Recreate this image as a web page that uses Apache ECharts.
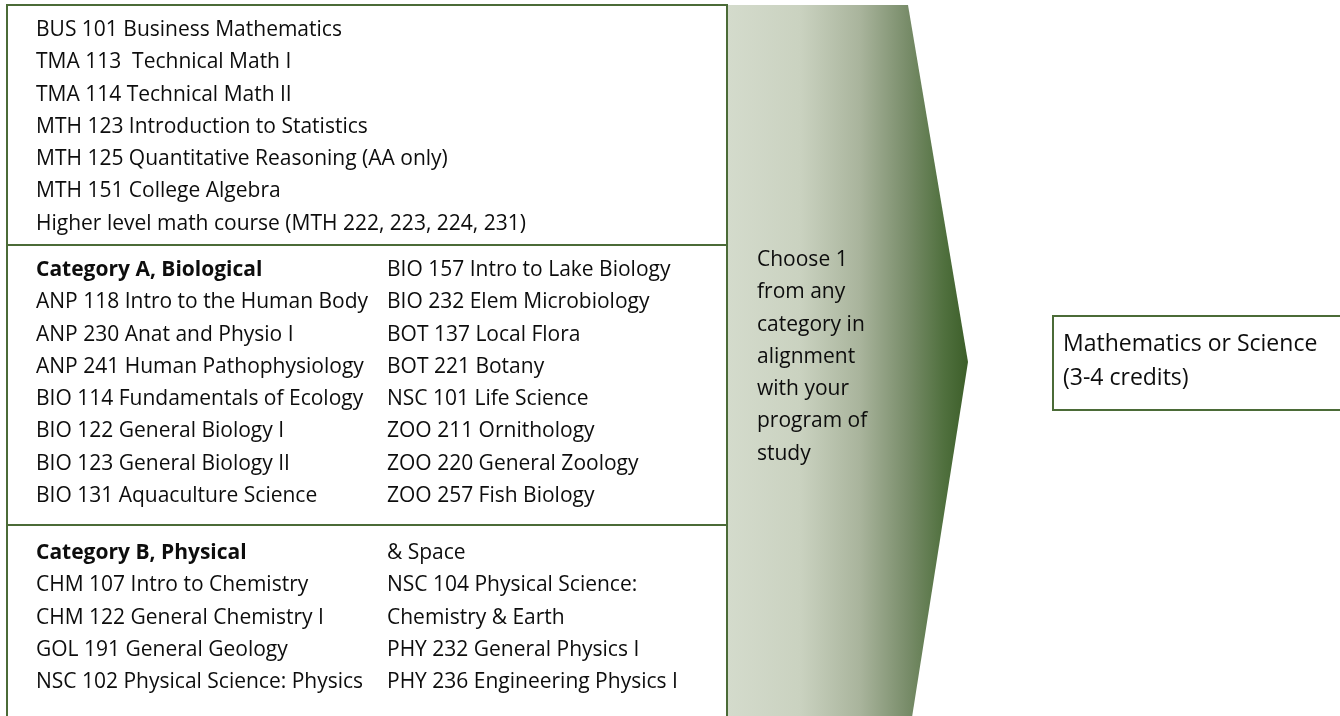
<!DOCTYPE html>
<html><head><meta charset="utf-8">
<script src="https://cdn.jsdelivr.net/npm/echarts@6/dist/echarts.min.js"></script>
<style>html,body{margin:0;padding:0;background:#fff}#c{width:1340px;height:716px}</style>
</head><body><div id="c"></div>
<script>
var mathCourses = ['BUS 101 Business Mathematics','TMA 113  Technical Math I','TMA 114 Technical Math II','MTH 123 Introduction to Statistics','MTH 125 Quantitative Reasoning (AA only)','MTH 151 College Algebra','Higher level math course (MTH 222, 223, 224, 231)'];
var bioHeader = 'Category A, Biological';
var bioCol1 = ['ANP 118 Intro to the Human Body','ANP 230 Anat and Physio I','ANP 241 Human Pathophysiology','BIO 114 Fundamentals of Ecology','BIO 122 General Biology I','BIO 123 General Biology II','BIO 131 Aquaculture Science'];
var bioCol2 = ['BIO 157 Intro to Lake Biology','BIO 232 Elem Microbiology','BOT 137 Local Flora','BOT 221 Botany','NSC 101 Life Science','ZOO 211 Ornithology','ZOO 220 General Zoology','ZOO 257 Fish Biology'];
var physHeader = 'Category B, Physical';
var physCol1 = ['CHM 107 Intro to Chemistry','CHM 122 General Chemistry I','GOL 191 General Geology','NSC 102 Physical Science: Physics'];
var physCol2 = ['& Space','NSC 104 Physical Science:','Chemistry & Earth','PHY 232 General Physics I','PHY 236 Engineering Physics I'];
var arrowText = ['Choose 1','from any','category in','alignment','with your','program of','study'];
var resultText = ['Mathematics or Science','(3-4 credits)'];

var GREEN = '#4b6b37';
var FONT = '"Open Sans"';
var LH = 32.3;

function block(x, yFirst, lines, header, fs, lh) {
  fs = fs || 21;
  lh = lh || LH;
  var rich = {n:{fontFamily:FONT,fontSize:fs,lineHeight:lh,fill:'#0d0d0d'}, b:{fontFamily:FONT,fontSize:fs,fontWeight:'bold',lineHeight:lh,fill:'#0d0d0d'}};
  var parts = [];
  if (header) parts.push('{b|'+header+'}');
  lines.forEach(function(l){ parts.push('{n|'+l+'}'); });
  return {type:'text', left:x, top:yFirst - lh/2, style:{text:parts.join('\n'), rich:rich, font: fs+'px '+FONT, lineHeight:lh}};
}
var chart = echarts.init(document.getElementById('c'), null, {renderer:'canvas'});
chart.setOption({
  animation:false,
  graphic:[
    {type:'polygon', shape:{points:[[728,5],[908,5],[968,362],[910,730],[728,730]]},
     style:{fill:new echarts.graphic.LinearGradient(0,0,1,0,[
       {offset:0,color:'#d4dbcc'},{offset:0.3,color:'#cad2c0'},{offset:0.55,color:'#a9b49c'},
       {offset:0.75,color:'#788c69'},{offset:0.9,color:'#50703e'},{offset:1,color:'#3c5e29'}])}},
    {type:'rect', shape:{x:7,y:5,width:720,height:730}, style:{fill:'none',stroke:GREEN,lineWidth:2}},
    {type:'line', shape:{x1:7,y1:245,x2:727,y2:245}, style:{stroke:GREEN,lineWidth:2}},
    {type:'line', shape:{x1:7,y1:525,x2:727,y2:525}, style:{stroke:GREEN,lineWidth:2}},
    {type:'rect', shape:{x:1053,y:316,width:300,height:94}, style:{fill:'#fff',stroke:GREEN,lineWidth:2}},
    block(36, 30, mathCourses),
    block(36, 270, bioCol1, bioHeader),
    block(387, 270, bioCol2),
    block(36, 553, physCol1, physHeader),
    block(387, 553, physCol2),
    block(757, 260, arrowText),
    block(1063, 344, resultText, null, 23, 34)
  ]
});
</script></body></html>
